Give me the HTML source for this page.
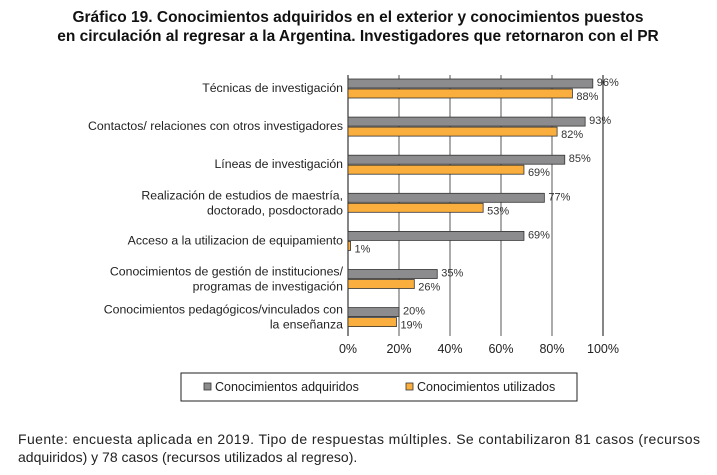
<!DOCTYPE html>
<html><head><meta charset="utf-8"><style>
body{margin:0;background:#fff;width:717px;height:470px;overflow:hidden;font-family:"Liberation Sans",sans-serif;}
</style></head><body>
<svg width="717" height="470" xmlns="http://www.w3.org/2000/svg" font-family="Liberation Sans, sans-serif">
<text x="358" y="22" text-anchor="middle" font-size="15.5" font-weight="bold" fill="#111">Gráfico 19. Conocimientos adquiridos en el exterior y conocimientos puestos</text>
<text x="358" y="41" text-anchor="middle" font-size="15.5" font-weight="bold" fill="#111">en circulación al regresar a la Argentina. Investigadores que retornaron con el PR</text>
<g id="grid"></g><g id="bars"></g><g id="labels"></g>
<g>
<rect x="181" y="373" width="396" height="28" fill="#fff" stroke="#222" stroke-width="1"/>
<rect x="204" y="383" width="7" height="7" fill="#8c8c8e" stroke="#333" stroke-width="0.8"/>
<text x="215" y="391" font-size="12.5" fill="#222">Conocimientos adquiridos</text>
<rect x="406" y="383" width="7" height="7" fill="#f9ae3d" stroke="#333" stroke-width="0.8"/>
<text x="417" y="391" font-size="12.5" fill="#222">Conocimientos utilizados</text>
</g>
<text x="18" y="444" font-size="14" fill="#222" textLength="682">Fuente: encuesta aplicada en 2019. Tipo de respuestas múltiples. Se contabilizaron 81 casos (recursos</text>
<text x="18" y="462" font-size="14" fill="#222">adquiridos) y 78 casos (recursos utilizados al regreso).</text>
</svg>
<script>
const categories=[["Técnicas de investigación"],["Contactos/ relaciones con otros investigadores"],["Líneas de investigación"],["Realización de estudios de maestría,","doctorado, posdoctorado"],["Acceso a la utilizacion de equipamiento"],["Conocimientos de gestión de instituciones/","programas de investigación"],["Conocimientos pedagógicos/vinculados con","la enseñanza"]];
const acquired=[96,93,85,77,69,35,20];
const used=[88,82,69,53,1,26,19];
const ticks=[0,20,40,60,80,100];
const NS="http://www.w3.org/2000/svg";
const x=v=>348+v*2.55;
const rowY=i=>88+i*38.1;
function mk(t,a,p){const e=document.createElementNS(NS,t);for(const k in a)e.setAttribute(k,a[k]);p.appendChild(e);return e;}
const g=document.getElementById('grid'),b=document.getElementById('bars'),l=document.getElementById('labels');
ticks.forEach(t=>{
 const ln=mk('line',{x1:x(t),x2:x(t),y1:75,y2:336,stroke:t===0||t===100?'#222':'#666','stroke-width':1.1},g);
 
 
 const tx=mk('text',{x:x(t),y:353,'text-anchor':'middle','font-size':12.5,fill:'#222'},l);
 tx.textContent=t+'%';
 
 
});
categories.forEach((c,i)=>{
 const cy=rowY(i);
 const r1=mk('rect',{x:x(0),y:cy-9,width:x(acquired[i])-x(0),height:9,fill:'#8c8c8e',stroke:'#333','stroke-width':0.8},b);
 
 
 const r2=mk('rect',{x:x(0),y:cy+1,width:x(used[i])-x(0),height:9,fill:'#f9ae3d',stroke:'#333','stroke-width':0.8},b);
 
 
 const v1=mk('text',{x:x(acquired[i])+4,y:cy-2,'font-size':11,fill:'#333'},l);
 v1.textContent=acquired[i]+'%';
 
 
 const v2=mk('text',{x:x(used[i])+4,y:cy+12,'font-size':11,fill:'#333'},l);
 v2.textContent=used[i]+'%';
 
 
 c.forEach((s,j)=>{
  const yy=c.length===1?cy+4:cy-3+j*15;
  const t=mk('text',{x:343,y:yy,'text-anchor':'end','font-size':12.3,fill:'#222'},l);
  t.textContent=s;
  
  
 });
});
</script>
</body></html>
